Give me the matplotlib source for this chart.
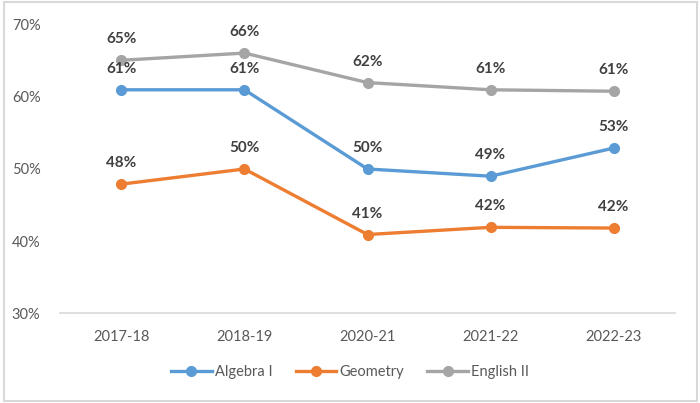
import matplotlib

matplotlib.use("Agg")
import matplotlib.pyplot as plt
from matplotlib.patches import Rectangle
from matplotlib.ticker import FuncFormatter

plt.rcParams["font.family"] = ["Lato", "DejaVu Sans"]

years = ["2017-18", "2018-19", "2020-21", "2021-22", "2022-23"]
algebra = [61.0, 61.0, 50.0, 49.0, 52.9]
geometry = [47.9, 50.0, 40.9, 41.9, 41.8]
english = [65.1, 66.1, 62.0, 61.0, 60.8]

series = [
    ("Algebra I", algebra, "#5b9bd5"),
    ("Geometry", geometry, "#ed7d31"),
    ("English II", english, "#a5a5a5"),
]

fig = plt.figure(figsize=(7, 4.03), dpi=100)
ax = fig.add_axes([0.0857, 0.2233, 0.8786, 0.7147])

x = range(len(years))
for name, vals, color in series:
    ax.plot(x, vals, color=color, lw=2.4, marker="o", ms=7, label=name)
    for xi, v in zip(x, vals):
        ax.annotate(f"{v:.0f}%", (xi, v), xytext=(0, 10), textcoords="offset points",
                    ha="center", va="bottom", fontsize=11, fontweight="bold",
                    color="#404040")

ax.set_xlim(-0.5, len(years) - 0.5)
ax.set_ylim(30, 70)
ax.set_yticks([30, 40, 50, 60, 70])
ax.yaxis.set_major_formatter(FuncFormatter(lambda v, _: f"{v:.0f}%"))
ax.set_xticks(list(x))
ax.set_xticklabels(years)
ax.tick_params(length=0, labelsize=10.5, labelcolor="#595959")
ax.tick_params(axis="y", pad=14)
ax.tick_params(axis="x", pad=12)
for s in ("top", "right", "left"):
    ax.spines[s].set_visible(False)
ax.spines["bottom"].set_color("#d9d9d9")
ax.spines["bottom"].set_linewidth(1.2)

ax.legend(loc="center", bbox_to_anchor=(0.5, 0.0765), bbox_transform=fig.transFigure,
          ncol=3, frameon=False, fontsize=10.5, labelcolor="#595959",
          handlelength=2.8, handletextpad=0.2, columnspacing=1.6)

fig.patches.append(Rectangle((0.005, 0.006), 0.99, 0.988, transform=fig.transFigure,
                             fill=False, edgecolor="#d9d9d9", lw=1.5))

fig.savefig("out.png", dpi=100)
